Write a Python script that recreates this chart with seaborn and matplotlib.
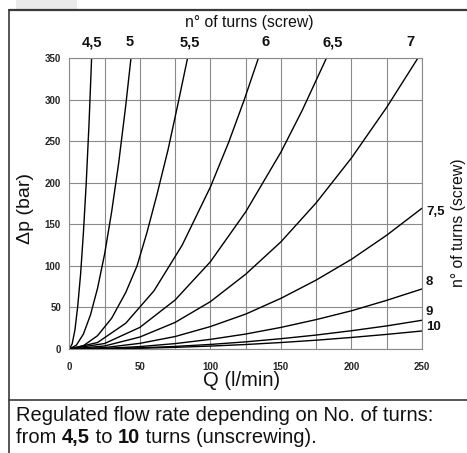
import numpy as np
import pandas as pd
import matplotlib
matplotlib.use("Agg")
import matplotlib.pyplot as plt
import matplotlib.transforms as mtransforms
from matplotlib.lines import Line2D
from matplotlib.patches import Rectangle
import seaborn as sns

# ---------------- data ----------------
turns = ["4,5", "5", "5,5", "6", "6,5", "7", "7,5", "8", "9", "10"]

q_45 = [0, 2, 4, 6, 8, 10, 12, 14, 15.8]
p_45 = [0, 6, 23, 52, 90, 140, 200, 272, 350]

q_5 = [0, 5, 10, 15, 20, 25, 30, 35, 40, 43.7]
p_5 = [0, 4.6, 18, 41, 73, 114, 165, 224, 293, 350]

q_55 = [0, 10, 20, 30, 40, 48, 55, 62, 70, 77, 83.8]
p_55 = [0, 4, 16, 37, 68, 100, 140, 185, 240, 295, 350]

q_6 = [0, 20, 40, 60, 80, 100, 113, 124, 134]
p_6 = [0, 7.8, 31, 70, 125, 195, 249, 300, 350]

q_65 = [0, 25, 50, 75, 100, 125, 150, 165, 182.2]
p_65 = [0, 6.6, 26, 59, 105, 165, 237, 287, 350]

q_7 = [0, 25, 50, 75, 100, 125, 150, 175, 200, 225, 247]
p_7 = [0, 3.6, 14.4, 32, 57, 90, 129, 176, 230, 291, 350]

q_low = [0, 25, 50, 75, 100, 125, 150, 175, 200, 225, 250]
p_75 = [0, 1.7, 6.8, 15, 27, 42, 61, 83, 108, 137, 169.5]
p_8 = [0, 0.7, 2.9, 6.5, 11.6, 18, 26, 35.4, 46, 58.6, 72.3]
p_9 = [0, 0.3, 1.4, 3.1, 5.5, 8.6, 12.4, 16.8, 22, 27.8, 34.6]
p_10 = [0, 0.2, 0.9, 2, 3.5, 5.4, 7.8, 10.6, 13.9, 17.6, 21.7]

x_ticks = [0, 50, 100, 150, 200, 250]
y_ticks = [0, 50, 100, 150, 200, 250, 300, 350]

curves_q = [q_45, q_5, q_55, q_6, q_65, q_7, q_low, q_low, q_low, q_low]
curves_p = [p_45, p_5, p_55, p_6, p_65, p_7, p_75, p_8, p_9, p_10]

frames = []
for name, q, p in zip(turns, curves_q, curves_p):
    frames.append(pd.DataFrame({"Q": q, "p": p, "turns": name}))
df = pd.concat(frames, ignore_index=True)

# ---------------- layout constants ----------------
top_names = turns[:6]
top_label_q = [15.9, 43.0, 85.5, 139.4, 186.9, 241.5]
right_names = turns[6:]
right_label_p = [165, 81, 45, 27]

# ---------------- figure ----------------
sns.set_theme(style="white")
plt.rcParams["font.family"] = ["Liberation Sans", "DejaVu Sans"]

W, H = 467, 453
fig = plt.figure(figsize=(W / 100, H / 100), dpi=100)
fig.patch.set_facecolor("white")

ax = fig.add_axes([69.3 / W, 1 - 349 / H, (422 - 69.3) / W, (349 - 58.3) / H])

sns.lineplot(data=df, x="Q", y="p", units="turns", estimator=None,
             color="black", lw=1.0, sort=False, legend=False, ax=ax)

ax.set_xlim(0, 250)
ax.set_ylim(0, 350)
ax.set_xticks(x_ticks)
ax.set_xticks([25, 75, 125, 175, 225], minor=True)
ax.set_yticks(y_ticks)
ax.set_xticklabels([str(v) for v in x_ticks], fontsize=7, fontweight="bold")
ax.set_yticklabels([str(v) for v in y_ticks], fontsize=7, fontweight="bold")
ax.tick_params(axis="both", which="both", length=0)
ax.tick_params(axis="x", pad=9)
ax.tick_params(axis="y", pad=6)
ax.grid(True, which="major", axis="both", color="#8a8a8a", lw=0.8)
ax.grid(True, which="minor", axis="x", color="#8a8a8a", lw=0.8)
ax.set_axisbelow(True)
for s in ax.spines.values():
    s.set_color("#8a8a8a")
    s.set_linewidth(0.8)
ax.set_xlabel("")
ax.set_ylabel("")

# top turn labels
trans_top = mtransforms.blended_transform_factory(ax.transData, fig.transFigure)
for name, q in zip(top_names, top_label_q):
    ax.text(q, 1 - 42.5 / H, name, transform=trans_top, ha="center", va="center",
            fontsize=10.5, fontweight="bold", color="#111111")

# right turn labels
trans_right = mtransforms.blended_transform_factory(fig.transFigure, ax.transData)
for name, p in zip(right_names, right_label_p):
    ax.text(426 / W, p, name, transform=trans_right, ha="left", va="center",
            fontsize=9.5, fontweight="bold", color="#111111", clip_on=False)

# axis titles
fig.text(249 / W, 1 - 22 / H, "n° of turns (screw)", ha="center", va="center",
         fontsize=11.3, color="#111111")
fig.text(459 / W, 1 - 223 / H, "n° of turns (screw)", ha="center", va="center",
         rotation=90, fontsize=11.3, color="#111111")
fig.text(26 / W, 1 - 208 / H, "Δp (bar)", ha="center", va="center",
         rotation=90, fontsize=14, color="#111111")
fig.text(242 / W, 1 - 381 / H, "Q (l/min)", ha="center", va="center",
         fontsize=14.5, color="#111111")

# frame lines and decoration
fig.add_artist(Rectangle((16 / W, 1 - 9 / H), 61 / W, 9 / H, transform=fig.transFigure,
                         facecolor="#ebebeb", edgecolor="none"))
fig.add_artist(Line2D([9 / W, 1], [1 - 10 / H, 1 - 10 / H], transform=fig.transFigure,
                      color="#3a3a3a", lw=1.6))
fig.add_artist(Line2D([9 / W, 9 / W], [0, 1 - 10 / H], transform=fig.transFigure,
                      color="#3a3a3a", lw=1.2))
fig.add_artist(Line2D([9 / W, 1], [1 - 400 / H, 1 - 400 / H], transform=fig.transFigure,
                      color="#3a3a3a", lw=1.2))

# caption
cap_fs = 14.5
fig.text(16 / W, 1 - 421 / H, "Regulated flow rate depending on No. of turns:",
         ha="left", va="baseline", fontsize=cap_fs, color="#111111")
prev = fig.text(16 / W, 1 - 443 / H, "from ", ha="left", va="baseline",
                fontsize=cap_fs, color="#111111")
pieces = [("4,5", "bold"), (" to ", "normal"), ("10", "bold"),
          (" turns (unscrewing).", "normal")]
for s, w in pieces:
    prev = ax.annotate(s, xycoords=prev, xy=(1, 0), va="bottom", ha="left",
                       fontsize=cap_fs, fontweight=w, color="#111111",
                       annotation_clip=False)

fig.savefig("out.png", dpi=100)
